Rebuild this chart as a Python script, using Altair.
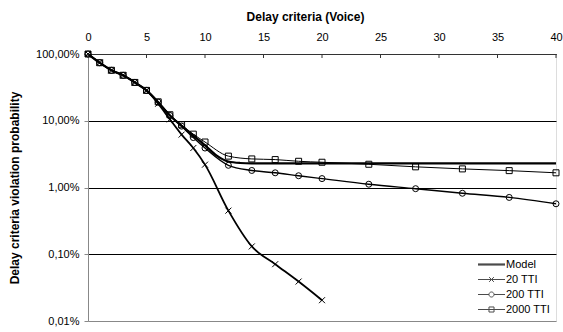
import altair as alt
import pandas as pd

# ---- data ----
x_model = [0, 1, 2, 3, 4, 5, 6, 7, 8, 9, 10, 11, 12, 13, 14, 16, 18, 20, 24, 28, 32, 36, 40]
y_model = [100, 74, 57, 48, 37.5, 28.5, 19, 12, 8.4, 6.0, 4.3, 3.0, 2.45, 2.33, 2.3, 2.3, 2.3, 2.3, 2.3, 2.3, 2.3, 2.3, 2.3]

x_20 = [0, 1, 2, 3, 4, 5, 6, 7, 8, 9, 10, 12, 14, 16, 18, 20]
y_20 = [100, 74, 57, 48, 37.5, 28.5, 18, 10.5, 6.2, 3.9, 2.2, 0.45, 0.131, 0.071, 0.039, 0.0205]

x_200 = [0, 1, 2, 3, 4, 5, 6, 7, 8, 9, 10, 12, 14, 16, 18, 20, 24, 28, 32, 36, 40]
y_200 = [100, 74, 57, 48, 37.5, 28.5, 19, 12, 8.3, 5.6, 3.9, 2.15, 1.8, 1.66, 1.5, 1.36, 1.12, 0.96, 0.82, 0.71, 0.57]

x_2000 = [0, 1, 2, 3, 4, 5, 6, 7, 8, 9, 10, 12, 14, 16, 18, 20, 24, 28, 32, 36, 40]
y_2000 = [100, 74, 57, 48, 37.5, 28.5, 19.2, 12.3, 8.7, 6.3, 4.8, 2.95, 2.68, 2.62, 2.47, 2.39, 2.23, 2.04, 1.9, 1.79, 1.66]

series_names = ["Model", "20 TTI", "200 TTI", "2000 TTI"]
x_ticks = [0, 5, 10, 15, 20, 25, 30, 35, 40]
y_ticks = [1, 0.1, 0.01, 0.001, 0.0001]

rows = []
for name, xs, ys in [("Model", x_model, y_model), ("20 TTI", x_20, y_20),
                     ("200 TTI", x_200, y_200), ("2000 TTI", x_2000, y_2000)]:
    for xv, yv in zip(xs, ys):
        rows.append({"series": name, "x": xv, "p": yv / 100.0})
df = pd.DataFrame(rows)
df_markers = df[df["series"] != "Model"]
df_legend = pd.DataFrame({"series": series_names, "x": [20] * 4, "p": [1e-7] * 4})
df_ticks = pd.DataFrame({"x": x_ticks})

FONT = "Liberation Sans"
W, H = 468, 267

xscale = alt.Scale(domain=[0, 40], nice=False, zero=False)
yscale = alt.Scale(type="log", domain=[0.0001, 1], nice=False)

xenc = alt.X("x:Q", scale=xscale, axis=alt.Axis(
    orient="top", values=x_ticks, grid=False, ticks=False, domain=True,
    domainColor="#333333", labelFont=FONT, labelFontSize=11, labelColor="black",
    labelPadding=11.5, labelFlush=False, format="d",
    title="Delay criteria (Voice)", titleFont=FONT, titleFontSize=12,
    titleFontWeight="bold", titleColor="black", titleX=217, titleY=-38,
    titleBaseline="middle", titleAlign="center"))

yenc = alt.Y("p:Q", scale=yscale, axis=alt.Axis(
    values=y_ticks, grid=True,
    gridColor={"condition": {"test": "datum.value < 0.0005", "value": "#888888"}, "value": "black"},
    gridWidth=1, domain=True, domainColor="#888888", ticks=True, tickSize=4,
    tickColor="#888888", labelPadding=5, labelFont=FONT, labelFontSize=11,
    labelColor="black",
    labelExpr="replace(format(datum.value*100, '.2f'), '.', ',') + '%'",
    title="Delay criteria violation probability", titleFont=FONT, titleFontSize=12,
    titleFontWeight="bold", titleColor="black", titleAngle=-90, titleX=-74,
    titleY=H / 2, titleAlign="center", titleBaseline="middle"))

lines = alt.Chart(df).mark_line(interpolate="monotone", color="black").encode(
    x=xenc, y=yenc, detail="series:N",
    strokeWidth=alt.StrokeWidth("series:N", scale=alt.Scale(
        domain=series_names, range=[2.2, 1, 1, 1]), legend=None))

marker_paths = ["M-1,-1L1,1M-1,1L1,-1", "circle", "M-1,-1H1V1H-1Z"]
markers = alt.Chart(df_markers).mark_point(color="black", filled=False, size=36,
                                           strokeWidth=1, opacity=1).encode(
    x="x:Q", y="p:Q",
    shape=alt.Shape("series:N", scale=alt.Scale(domain=series_names[1:], range=marker_paths),
                    legend=None))

legend_paths = [
    "M-2.25,0L2.25,0M-2.25,-0.1L2.25,-0.1M-2.25,0.1L2.25,0.1",
    "M-2.25,0L2.25,0M-0.4,-0.4L0.4,0.4M-0.4,0.4L0.4,-0.4",
    "M-2.25,0L-0.42,0M0.42,0L2.25,0M0.42,0A0.42,0.42 0 1,1 -0.42,0A0.42,0.42 0 1,1 0.42,0",
    "M-2.25,0L2.25,0M-0.42,-0.42H0.42V0.42H-0.42Z",
]
legend_layer = alt.Chart(df_legend).mark_point(color="black", filled=False, clip=True,
                                               size=36).encode(
    x="x:Q", y="p:Q",
    shape=alt.Shape("series:N", scale=alt.Scale(domain=series_names, range=legend_paths),
                    legend=alt.Legend(title=None, orient="none", legendX=397, legendY=204,
                                      symbolSize=144, symbolStrokeWidth=1,
                                      symbolStrokeColor="black",
                                      labelFont=FONT, labelFontSize=11, labelColor="black",
                                      labelOffset=8, rowPadding=3)))

ticks = alt.Chart(df_ticks).mark_rule(color="#333333", strokeWidth=1).encode(
    x="x:Q", y=alt.value(0), y2=alt.value(4))

chart = alt.layer(lines, markers, legend_layer, ticks).resolve_scale(
    shape="independent").properties(
    width=W, height=H,
    autosize=alt.AutoSizeParams(type="none"),
    padding={"left": 88, "top": 54, "right": 7, "bottom": 11},
).configure_view(stroke=None).configure(background="white")

chart.save("out.html", embed_options={"renderer": "svg", "actions": False})
